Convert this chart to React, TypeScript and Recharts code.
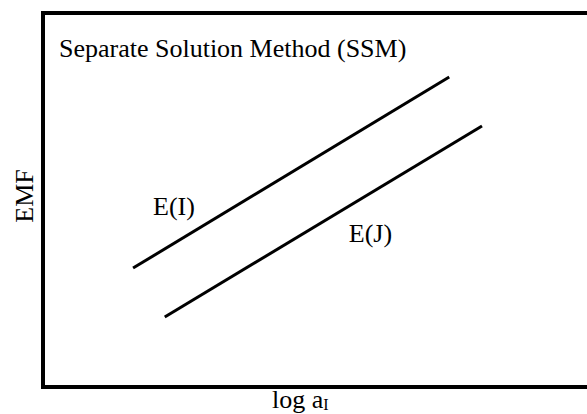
import React from 'react';
import { LineChart, Line, XAxis, YAxis, ReferenceArea, ReferenceDot, Label } from 'recharts';

// Series values (arbitrary units, log a_I on x, EMF on y)
const seriesI = [
  { x: 16.5, y: 31.8 },
  { x: 74.4, y: 82.9 },
];
const seriesJ = [
  { x: 22.3, y: 18.7 },
  { x: 80.4, y: 69.8 },
];

// Text labels
const titleText = 'Separate Solution Method (SSM)';
const titlePos = { x: 2.93, y: 88.2 };
const labelIText = 'E(I)';
const labelIPos = { x: 20.15, y: 46.0 };
const labelJText = 'E(J)';
const labelJPos = { x: 56.0, y: 38.8 };
const xTitleMain = 'log a';
const xTitleSub = 'I';
const yTitle = 'EMF';

const FONT = '"Liberation Serif", "Times New Roman", serif';
const FS = 26;

const textAt = (txt: string) => (props: any) => {
  const vb = props.viewBox || {};
  return (
    <text x={vb.x} y={vb.y} fontFamily={FONT} fontSize={FS} fill="#000" textAnchor="start">
      {txt}
    </text>
  );
};

export default function App() {
  return (
    <div style={{ position: 'absolute', left: 0, top: 0, width: 587, height: 414, overflow: 'hidden', background: '#fff' }}>
      <LineChart width={591} height={414} margin={{ top: 13, right: 2, bottom: 0, left: 0 }}>
        <XAxis
          type="number"
          dataKey="x"
          domain={[0, 100]}
          allowDataOverflow
          tick={false}
          axisLine={false}
          tickLine={false}
          height={27}
        >
          <Label
            content={(props: any) => {
              const vb = props.viewBox || {};
              return (
                <text x={vb.x + 229} y={vb.y + 21} fontFamily={FONT} fontSize={FS} fill="#000" textAnchor="start">
                  {xTitleMain}
                  <tspan fontSize={16} dy={2}>{xTitleSub}</tspan>
                </text>
              );
            }}
          />
        </XAxis>
        <YAxis
          type="number"
          domain={[0, 100]}
          allowDataOverflow
          tick={false}
          axisLine={false}
          tickLine={false}
          width={43}
        >
          <Label
            content={(props: any) => {
              const vb = props.viewBox || {};
              const cx = vb.x + 33;
              const cy = vb.y + vb.height / 2 - 4;
              return (
                <text
                  x={cx}
                  y={cy}
                  fontFamily={FONT}
                  fontSize={FS}
                  fill="#000"
                  textAnchor="middle"
                  transform={`rotate(-90, ${cx}, ${cy})`}
                >
                  {yTitle}
                </text>
              );
            }}
          />
        </YAxis>
        <ReferenceArea x1={0} x2={100} y1={0} y2={100} stroke="#000" strokeWidth={4} fill="none" fillOpacity={0} />
        <Line data={seriesI} dataKey="y" stroke="#000" strokeWidth={3} dot={false} isAnimationActive={false} />
        <Line data={seriesJ} dataKey="y" stroke="#000" strokeWidth={3} dot={false} isAnimationActive={false} />
        <ReferenceDot x={titlePos.x} y={titlePos.y} r={0} fill="none" stroke="none" label={<Label content={textAt(titleText)} />} />
        <ReferenceDot x={labelIPos.x} y={labelIPos.y} r={0} fill="none" stroke="none" label={<Label content={textAt(labelIText)} />} />
        <ReferenceDot x={labelJPos.x} y={labelJPos.y} r={0} fill="none" stroke="none" label={<Label content={textAt(labelJText)} />} />
      </LineChart>
    </div>
  );
}
